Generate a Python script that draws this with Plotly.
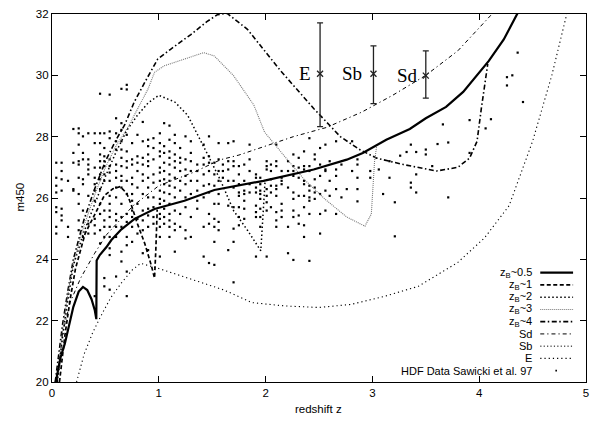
import plotly.graph_objects as go

# ---------------- curves (redshift z, magnitude m450) ----------------
zb05_z = [0.035, 0.06, 0.08, 0.12, 0.16, 0.20, 0.25, 0.29, 0.33, 0.37, 0.40, 0.415, 0.418, 0.447, 0.51, 0.556,
          0.65, 0.773, 0.96, 1.24, 1.52, 1.98, 2.45, 2.76, 2.91, 3.13, 3.35, 3.50, 3.69, 3.85, 4.09, 4.23, 4.36]
zb05_m = [20.0, 20.5, 20.8, 21.25, 21.9, 22.45, 22.95, 23.1, 23.0, 22.7, 22.35, 22.05, 23.96, 24.14, 24.4, 24.63,
          24.98, 25.32, 25.64, 25.91, 26.26, 26.56, 26.93, 27.25, 27.47, 27.9, 28.25, 28.6, 28.97, 29.46, 30.47, 31.17, 32.03]

zb1_z = [0.07, 0.12, 0.17, 0.22, 0.31, 0.40, 0.49, 0.57, 0.64, 0.70, 0.74, 0.80, 0.87, 0.93, 0.96, 0.972, 0.985]
zb1_m = [20.0, 21.5, 22.7, 23.7, 24.84, 25.48, 26.08, 26.3, 26.37, 26.15, 25.8, 25.16, 24.5, 23.8, 23.39, 24.3, 25.62]

zb2_z = [0.05, 0.10, 0.15, 0.20, 0.30, 0.40, 0.50, 0.60, 0.70, 0.80, 0.90, 1.00, 1.15, 1.27, 1.36, 1.46, 1.58,
         1.70, 1.83, 1.92, 1.955, 1.975, 1.995]
zb2_m = [20.0, 21.5, 22.7, 23.8, 24.9, 25.8, 26.7, 27.5, 28.2, 28.7, 29.1, 29.35, 29.13, 28.7, 28.06, 27.4, 26.56,
         25.59, 24.95, 24.47, 24.28, 25.4, 26.55]

zb3_z = [0.04, 0.10, 0.15, 0.20, 0.30, 0.40, 0.50, 0.60, 0.71, 0.80, 0.90, 0.96, 1.05, 1.24, 1.42, 1.52, 1.70,
         1.89, 1.99, 2.18, 2.36, 2.56, 2.76, 2.93, 2.99, 3.02, 3.04]
zb3_m = [20.0, 21.7, 22.9, 23.9, 25.1, 26.1, 27.0, 27.7, 28.3, 28.92, 29.56, 30.1, 30.31, 30.53, 30.74, 30.63, 29.99,
         29.03, 28.15, 27.35, 26.61, 25.95, 25.38, 25.08, 25.48, 27.2, 27.69]

zb4_z = [0.03, 0.10, 0.15, 0.20, 0.30, 0.40, 0.50, 0.60, 0.68, 0.77, 0.87, 0.99, 1.11, 1.30, 1.45, 1.55, 1.64,
         1.83, 2.14, 2.45, 2.70, 2.88, 3.04, 3.29, 3.60, 3.80, 3.91, 3.98, 4.02, 4.08]
zb4_m = [20.0, 21.9, 23.0, 24.0, 25.3, 26.3, 27.2, 27.9, 28.38, 29.13, 29.78, 30.53, 30.85, 31.33, 31.75, 31.98, 32.02,
         31.5, 30.15, 28.92, 28.0, 27.58, 27.3, 27.09, 26.88, 27.0, 27.3, 27.85, 28.92, 30.37]

sd_z = [0.05, 0.10, 0.17, 0.27, 0.40, 0.51, 0.76, 1.00, 1.32, 1.58, 1.75, 2.26, 2.57, 2.90, 3.19, 3.50, 3.80, 4.12]
sd_m = [20.0, 21.6, 22.6, 23.4, 24.2, 24.8, 25.75, 26.4, 26.83, 27.25, 27.4, 28.0, 28.3, 28.8, 29.35, 30.0, 30.8, 32.0]

e_z = [0.23, 0.30, 0.38, 0.45, 0.55, 0.65, 0.75, 0.83, 1.00, 1.18, 1.40, 1.61, 1.87, 2.18, 2.50, 2.80, 3.12, 3.43,
       3.80, 4.05, 4.28, 4.50, 4.68, 4.82]
e_m = [20.0, 20.9, 21.6, 22.1, 22.75, 23.23, 23.65, 23.87, 23.7, 23.5, 23.25, 23.0, 22.59, 22.48, 22.43, 22.53, 22.8,
       23.12, 23.9, 24.7, 25.75, 27.85, 30.0, 32.0]

# ---------------- template error bars ----------------
tpl_names = ["E", "Sb", "Sd"]
tpl_z = [2.51, 3.01, 3.50]
tpl_m = [30.05, 30.05, 29.99]
tpl_top = [31.71, 30.96, 30.80]
tpl_bot = [28.33, 29.08, 29.26]
tpl_label_z = [2.37, 2.81, 3.33]

# ---------------- HDF data (Sawicki et al. 97), read column by column ----------------
hdf_col_z = [0.04, 0.09, 0.15, 0.20, 0.25, 0.29, 0.34, 0.40, 0.45, 0.49, 0.54, 0.60, 0.65, 0.70, 0.75, 0.80,
             0.85, 0.90, 0.95, 1.01, 1.05, 1.10, 1.15, 1.20, 1.25, 1.30, 1.36, 1.42, 1.47, 1.52, 1.56, 1.60,
             1.65, 1.70, 1.75, 1.80, 1.85, 1.91, 1.95, 2.01, 2.05, 2.10, 2.15, 2.21, 2.26, 2.31, 2.36, 2.41,
             2.46, 2.51, 2.56, 2.60, 2.66, 2.71, 2.76, 2.81, 2.86, 2.98, 3.06, 3.10, 3.16, 3.21, 3.26, 3.32,
             3.36, 3.41, 3.50, 3.56, 3.61, 3.66, 3.71, 3.91, 4.06, 4.11, 4.26, 4.31, 4.36, 4.41]
hdf_col_m = [
    [27.15, 26.66, 26.40, 26.18, 25.70, 25.54, 25.06, 24.84],
    [27.15, 26.88, 26.61, 26.24, 25.65, 25.43, 25.27],
    [26.56, 25.06, 24.73],
    [28.25, 27.47, 27.15, 26.29, 26.24],
    [28.27, 28.11, 27.74, 27.20, 27.09, 26.66, 26.13, 25.81, 25.27, 24.95],
    [28.01, 27.47, 27.26, 26.61, 26.45, 25.59, 24.73],
    [28.11, 27.26, 27.09, 26.93, 26.77, 26.07, 25.16, 24.84],
    [28.11, 27.79, 26.99, 26.66, 26.45, 26.24, 25.91, 25.32, 25.11, 24.84, 22.80],
    [29.40, 28.11, 27.79, 27.42, 27.20, 26.99, 26.77, 26.61, 26.29, 25.81, 25.48, 24.95, 24.52],
    [28.11, 27.63, 27.36, 27.20, 27.04, 26.77, 26.56, 25.59, 25.27, 25.06, 24.73, 23.39, 23.12],
    [29.37, 28.17, 27.95, 27.26, 27.04, 26.83, 26.56, 26.07, 25.81, 25.59, 25.38, 25.06, 24.73, 24.36, 24.14, 23.01],
    [28.60, 28.11, 27.85, 27.58, 27.09, 26.88, 26.66, 26.34, 26.02, 25.48, 25.27, 25.06, 24.73, 23.44],
    [29.56, 28.44, 28.22, 27.85, 27.58, 27.31, 27.04, 26.72, 26.56, 26.34, 25.81, 25.38, 25.06, 24.25, 23.93],
    [29.69, 29.54, 28.06, 27.52, 27.20, 26.99, 26.56, 26.13, 25.48, 25.22, 24.73, 24.46, 23.60, 22.80],
    [27.79, 27.26, 27.09, 26.66, 26.45, 26.13, 25.91, 25.59, 25.38, 25.06, 24.57],
    [28.06, 27.36, 27.15, 26.88, 26.34, 25.81, 25.32, 24.84],
    [28.48, 27.85, 27.31, 27.09, 26.77, 26.56, 26.13, 25.59, 25.27, 24.95, 24.20],
    [27.90, 27.69, 27.42, 27.20, 27.04, 26.66, 26.34, 26.02, 25.65, 25.43, 25.06, 24.30],
    [27.95, 27.63, 27.26, 26.77, 26.50, 26.02, 25.70, 25.38, 25.16],
    [28.11, 27.79, 27.52, 27.36, 26.99, 26.83, 26.56, 26.24, 25.97, 25.81, 25.48, 25.32, 25.06, 24.73, 24.09],
    [28.44, 27.69, 27.47, 27.15, 26.88, 26.61, 26.45, 26.18, 25.91, 25.65, 25.38, 25.16],
    [28.36, 27.90, 27.52, 27.31, 27.09, 26.77, 26.56, 26.40, 26.13, 25.81, 25.48, 25.27, 25.06, 24.73],
    [28.06, 27.79, 27.42, 27.20, 26.99, 26.66, 26.34, 26.02, 25.59, 25.16, 24.95, 24.25],
    [27.63, 27.31, 27.15, 26.88, 26.56, 26.24, 25.48, 25.06],
    [28.01, 27.26, 26.93, 26.72, 26.45, 26.02, 25.70, 24.95, 24.68],
    [27.85, 27.47, 27.20, 26.88, 26.56, 26.13, 25.38, 24.73],
    [27.09, 26.88, 26.56, 26.24, 25.91, 25.65],
    [27.74, 27.31, 27.09, 26.77, 26.40, 26.02, 25.06, 24.09],
    [28.01, 27.36, 27.15, 26.88, 26.45, 26.18, 25.48, 25.16, 23.88],
    [27.15, 26.77, 26.40, 25.81, 25.32, 25.06, 24.57, 23.82],
    [27.79, 27.26, 26.88, 26.56, 26.13, 25.81, 25.22, 24.95],
    [27.09, 26.88, 26.66],
    [27.79, 27.20, 26.93, 26.56, 25.75, 24.30],
    [27.85, 27.20, 27.04, 26.56, 26.34, 25.70, 25.00, 24.57, 23.25],
    [27.04, 26.77, 26.45, 26.18, 26.07, 25.70, 25.38, 25.11],
    [27.09, 26.56, 26.24, 26.13, 25.91, 25.65, 25.32],
    [27.74, 27.26, 26.88, 26.45, 26.18],
    [26.77, 26.66, 26.34, 26.18, 25.75, 25.54, 25.38, 24.09],
    [26.66, 26.45, 26.24, 26.13, 25.97, 25.65, 25.38, 25.06],
    [27.20, 27.04, 26.93, 26.29, 26.07, 25.86, 25.59, 24.09],
    [27.09, 26.88, 26.61, 26.40, 26.18, 25.70],
    [27.74, 27.20, 27.04, 26.40, 26.29, 26.07, 25.54, 25.27, 25.06],
    [26.88, 26.66, 26.56, 26.45, 25.81, 25.59, 25.38],
    [27.20, 26.88, 26.34, 25.06, 24.20],
    [27.42, 27.04, 26.88, 26.72, 26.18, 25.97, 25.59, 25.38, 23.98],
    [27.31, 26.99, 26.66, 26.07, 25.43, 25.16],
    [27.52, 27.04, 26.93, 26.56, 26.45, 26.07, 25.70, 25.11, 24.73],
    [27.95, 27.04, 26.88, 26.40, 26.24, 26.02, 25.91, 25.48, 23.95],
    [27.42, 27.26, 26.61, 26.34, 26.18, 25.97],
    [27.63, 27.09, 26.72, 26.13, 25.48, 24.84],
    [27.74, 26.93, 26.88, 26.24, 25.59],
    [27.20, 26.56, 26.07],
    [27.85, 26.93, 26.72, 26.29, 25.48],
    [27.09, 26.02],
    [26.29],
    [27.85, 26.88],
    [27.26, 27.09, 26.66, 26.29, 25.89],
    [26.88, 26.66],
    [26.93],
    [26.13],
    [27.20, 26.66],
    [25.86, 24.75],
    [27.38],
    [27.50],
    [27.74, 26.50, 26.34],
    [27.50, 26.77, 26.18],
    [27.58, 27.42],
    [27.04],
    [27.76],
    [28.40],
    [27.81, 26.02],
    [28.54, 27.47],
    [28.27],
    [28.57],
    [29.94, 29.67],
    [30.00],
    [30.74],
    [29.13],
]

hdf_z = []
hdf_m = []
for cz, cms in zip(hdf_col_z, hdf_col_m):
    for cm in cms:
        hdf_z.append(cz)
        hdf_m.append(cm)

fig = go.Figure()

fig.add_trace(go.Scatter(x=hdf_z, y=hdf_m, mode="markers",
                         marker=dict(symbol="square", size=2.2, color="black", line=dict(width=0)),
                         hoverinfo="skip"))

curve_styles = [
    (e_z, e_m, "black", 1.1, "1.2px,3px"),
    (sd_z, sd_m, "black", 1.0, "4px,3px,1.2px,3px"),
    (zb4_z, zb4_m, "black", 1.6, "5px,2.5px,1.5px,2.5px"),
    (zb3_z, zb3_m, "#777777", 1.1, "1px,1px"),
    (zb2_z, zb2_m, "black", 1.5, "1.5px,2.5px"),
    (zb1_z, zb1_m, "black", 1.7, "4px,2.5px"),
    (zb05_z, zb05_m, "black", 2.2, "solid"),
]
for xs, ys, col, w, dash in curve_styles:
    fig.add_trace(go.Scatter(x=xs, y=ys, mode="lines", line=dict(color=col, width=w, dash=dash),
                             hoverinfo="skip"))

fig.add_trace(go.Scatter(
    x=tpl_z, y=tpl_m, mode="markers",
    marker=dict(symbol="x-thin", size=6, color="#222222", line=dict(width=1.3, color="#222222")),
    error_y=dict(type="data", symmetric=False,
                 array=[t - m for t, m in zip(tpl_top, tpl_m)],
                 arrayminus=[m - b for m, b in zip(tpl_m, tpl_bot)],
                 thickness=1.3, width=3, color="#222222"),
    hoverinfo="skip"))

for name, lz, m in zip(tpl_names, tpl_label_z, tpl_m):
    fig.add_annotation(x=lz, y=m, text=name, showarrow=False, xanchor="center", yanchor="middle",
                       font=dict(family="Liberation Serif, Times New Roman, serif", size=19, color="black"))

# ---------------- legend drawn gnuplot-style (text right, sample on the right) ----------------
legend_labels = ["z<sub>B</sub>~0.5", "z<sub>B</sub>~1", "z<sub>B</sub>~2", "z<sub>B</sub>~3",
                 "z<sub>B</sub>~4", "Sd", "Sb", "E", "HDF Data Sawicki et al. 97"]
legend_styles = [("black", 2.2, "solid"), ("black", 1.7, "4px,2.5px"), ("black", 1.5, "1.5px,2.5px"),
                 ("#777777", 1.1, "1px,1px"), ("black", 1.6, "5px,2.5px,1.5px,2.5px"),
                 ("black", 1.0, "4px,3px,1.2px,3px"), ("black", 1.0, "1.2px,2.2px"),
                 ("black", 1.1, "1.2px,3px"), None]

L, R, T, B = 52, 589, 9.3, 382.0
W, H = R - L, B - T
def px2paper_x(px):
    return (px - L) / W
def py2paper_y(py):
    return (B - py) / H

legend_top = 271.3
legend_step = 12.4
for i, (lab, sty) in enumerate(zip(legend_labels, legend_styles)):
    py = legend_top + i * legend_step
    fig.add_annotation(xref="paper", yref="paper", x=px2paper_x(537), y=py2paper_y(py), text=lab,
                       showarrow=False, xanchor="right", yanchor="middle",
                       font=dict(family="Liberation Sans, Arial, sans-serif", size=11, color="black"))
    if sty is None:
        fig.add_shape(type="rect", xref="paper", yref="paper",
                      x0=px2paper_x(558.2), x1=px2paper_x(559.8), y0=py2paper_y(py + 0.8), y1=py2paper_y(py - 0.8),
                      fillcolor="black", line=dict(width=0))
    else:
        col, w, dash = sty
        fig.add_shape(type="line", xref="paper", yref="paper",
                      x0=px2paper_x(543), x1=px2paper_x(576), y0=py2paper_y(py), y1=py2paper_y(py),
                      line=dict(color=col, width=w, dash=dash))

axis_font = dict(family="Liberation Sans, Arial, sans-serif", size=11.5, color="black")

# axis titles placed like the original
fig.add_annotation(xref="paper", yref="paper", x=px2paper_x(20), y=py2paper_y(195), text="m450",
                   textangle=-90, showarrow=False, xanchor="center", yanchor="middle", font=axis_font)
fig.add_annotation(xref="paper", yref="paper", x=px2paper_x(320), y=py2paper_y(409), text="redshift z",
                   showarrow=False, xanchor="center", yanchor="middle", font=axis_font)

fig.update_layout(
    width=597, height=426,
    margin=dict(l=L, r=597 - R, t=T, b=426 - B),
    paper_bgcolor="white", plot_bgcolor="white",
    showlegend=False,
    font=axis_font,
)
fig.update_xaxes(range=[0, 5], tickvals=[0, 1, 2, 3, 4, 5], ticks="inside", ticklen=6, tickcolor="black",
                 showline=True, linecolor="black", linewidth=1.2, mirror="ticks", showgrid=False, zeroline=False,
                 tickfont=axis_font)
fig.update_yaxes(range=[20, 32], tickvals=[20, 22, 24, 26, 28, 30, 32], ticks="inside", ticklen=6,
                 tickcolor="black", showline=True, linecolor="black", linewidth=1.2, mirror="ticks",
                 showgrid=False, zeroline=False, tickfont=axis_font)

fig.write_html("out.html", config={"displayModeBar": False},
               post_script="document.body.style.margin='0';document.body.style.overflow='hidden';")
